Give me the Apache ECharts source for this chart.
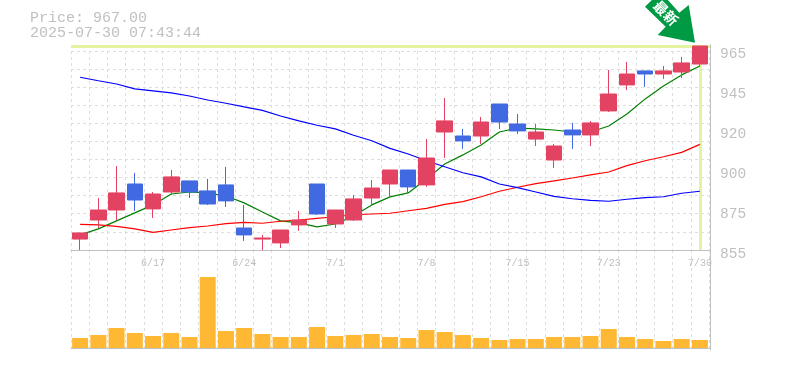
<!DOCTYPE html>
<html>
<head>
<meta charset="utf-8">
<title>967.00</title>
<style>
  html, body { margin: 0; padding: 0; background: #fff; }
  #chart { width: 785px; height: 370px; }
</style>
<script src="https://cdn.jsdelivr.net/npm/echarts@6/dist/echarts.min.js"></script>
</head>
<body>
<div id="chart"></div>
<script>
const dates = ['6/11', '6/12', '6/13', '6/16', '6/17', '6/18', '6/19', '6/20', '6/23', '6/24',
  '6/25', '6/26', '6/27', '6/30', '7/1', '7/2', '7/3', '7/4', '7/7', '7/8',
  '7/9', '7/10', '7/11', '7/14', '7/15', '7/16', '7/17', '7/18', '7/22', '7/23',
  '7/24', '7/25', '7/28', '7/29', '7/30'];

// open, close, low, high
const candles = [
  [861.0, 864.4, 855.0, 864.4], [871.5, 877.0, 867.1, 883.6], [877.0, 886.4, 871.5, 901.2],
  [891.3, 882.5, 876.5, 897.4], [877.6, 885.8, 872.6, 886.9], [886.9, 895.2, 885.3, 899.0],
  [893.0, 886.9, 883.6, 893.0], [887.5, 880.3, 879.8, 894.1], [890.8, 882.0, 878.7, 900.7],
  [867.1, 863.3, 860.0, 879.8], [861.0, 861.6, 855.0, 863.3], [858.9, 866.0, 856.1, 866.0],
  [868.8, 871.5, 865.5, 876.5], [891.3, 874.8, 874.3, 891.3], [869.3, 877.0, 867.1, 877.0],
  [871.5, 883.1, 871.0, 885.3], [883.6, 889.1, 879.8, 893.5], [891.3, 899.0, 884.2, 899.0],
  [899.0, 889.7, 886.4, 899.0], [890.8, 905.6, 889.7, 916.1], [919.9, 926.0, 905.6, 938.6],
  [917.7, 915.0, 910.6, 921.6], [917.7, 925.4, 913.3, 928.2], [935.3, 925.4, 921.6, 935.3],
  [924.3, 920.5, 918.8, 929.8], [916.0, 919.9, 912.2, 924.3], [904.5, 912.2, 900.1, 913.3],
  [921.0, 918.3, 910.6, 924.9], [918.3, 924.9, 912.2, 926.0], [931.5, 940.8, 930.9, 954.0],
  [945.8, 951.8, 943.0, 958.4], [953.5, 951.8, 944.7, 953.5], [951.8, 953.5, 949.1, 956.2],
  [952.9, 957.9, 949.6, 961.2], [957.3, 967.2, 956.2, 967.2],
];

const maShort = [863.3, 866.6, 871.0, 875.4, 879.8, 885.8, 886.9, 886.4, 884.7, 880.9,
  875.9, 871.0, 869.9, 867.7, 869.3, 873.7, 879.8, 884.2, 886.4, 894.0,
  902.3, 907.3, 912.8, 919.9, 922.1, 921.6, 921.0, 919.9, 919.9, 923.2,
  929.8, 938.1, 945.2, 951.3, 956.2];
const maMid = [869.1, 868.8, 868.0, 866.6, 864.7, 866.0, 867.3, 868.2, 869.5, 870.2,
  869.7, 870.8, 871.5, 872.4, 873.3, 874.4, 874.8, 875.2, 876.6, 877.9,
  880.1, 881.6, 884.3, 887.3, 889.5, 891.5, 893.0, 894.6, 896.3, 897.9,
  901.4, 904.1, 906.3, 908.7, 913.1];
const maLong = [950.0, 948.1, 946.3, 943.6, 942.5, 941.4, 939.7, 937.5, 935.7, 933.7,
  931.8, 928.7, 926.0, 923.6, 921.6, 918.1, 915.1, 910.9, 907.8, 904.1,
  900.8, 897.5, 895.2, 891.3, 889.3, 886.9, 884.5, 883.2, 882.3, 881.8,
  882.9, 883.8, 884.3, 886.2, 887.3];
const volumes = [10, 13, 20, 15, 12, 15, 11, 71, 17, 20, 14, 11, 11, 21, 12, 13, 14, 11,
  10, 18, 16, 13, 10, 8, 9, 9, 11, 11, 12, 19, 11, 9, 7, 9, 8];

const yTickValues = [855, 877, 899, 921, 943, 965];
const yTickLabels = ['855', '875', '900', '920', '945', '965'];
const yGridValues = [964.5, 954.5, 944.6, 934.8, 924.9, 915, 905.1, 895.2, 885.3, 875.2, 865];
const lastPrice = 967;
const headerLines = ['Price: 967.00', '2025-07-30 07:43:44'];
const badgeText = '最新';

const GRAY = '#c0c0c0';
const GRID_LINE = '#dedede';
const MONO = '"Liberation Mono", monospace';
const HILITE = '#e3f3a0';

const myChart = echarts.init(document.getElementById('chart'), null, { renderer: 'canvas' });

function lineSeries(data, color) {
  return {
    type: 'line',
    data,
    xAxisIndex: 0,
    yAxisIndex: 0,
    symbol: 'none',
    smooth: false,
    silent: true,
    z: 4,
    lineStyle: { color, width: 1.2 },
  };
}

myChart.setOption({
  animation: false,
  backgroundColor: '#fff',
  title: {
    text: headerLines.join('\n'),
    left: 30,
    top: 11,
    padding: 0,
    textStyle: { fontFamily: MONO, fontSize: 15, fontWeight: 'normal', color: GRAY, lineHeight: 15 },
  },
  grid: [
    { left: 71, width: 638, top: 45, height: 205 },
    { left: 71, width: 638, top: 250, height: 100 },
  ],
  xAxis: [
    {
      type: 'category',
      gridIndex: 0,
      data: dates,
      boundaryGap: true,
      axisLine: { lineStyle: { color: GRAY, width: 1 } },
      axisTick: { show: false },
      axisLabel: {
        interval: (i) => i % 5 === 4,
        margin: 8,
        fontFamily: MONO,
        fontSize: 10,
        color: GRAY,
      },
      splitLine: { show: true, interval: 0, lineStyle: { color: GRID_LINE, type: [3, 3], width: 1 } },
    },
    {
      type: 'category',
      gridIndex: 1,
      data: dates,
      boundaryGap: true,
      axisLine: { lineStyle: { color: GRAY, width: 1 } },
      axisTick: { show: false },
      axisLabel: { show: false },
      splitLine: { show: true, interval: 0, lineStyle: { color: GRID_LINE, type: [3, 3], width: 1 } },
    },
  ],
  yAxis: [
    {
      type: 'value',
      gridIndex: 0,
      position: 'right',
      offset: 1,
      min: 855,
      max: 967.75,
      axisLine: { show: true, lineStyle: { color: GRAY, width: 1 } },
      axisTick: { show: false, customValues: yGridValues },
      axisLabel: {
        customValues: yTickValues,
        formatter: (v) => '{t|' + yTickLabels[yTickValues.indexOf(v)] + '}',
        margin: 10,
        rich: {
          t: {
            padding: [8, 0, 0, 0],
            fontFamily: MONO,
            fontSize: 14.5,
            color: GRAY,
          },
        },
      },
      splitLine: { show: true, lineStyle: { color: GRID_LINE, type: [3, 3], width: 1 } },
    },
    {
      type: 'value',
      gridIndex: 1,
      position: 'right',
      offset: 1,
      min: -2,
      max: 98,
      axisLine: { show: true, lineStyle: { color: GRAY, width: 1 } },
      axisTick: { show: false },
      axisLabel: { show: false },
      splitLine: { show: false },
    },
  ],
  series: [
    {
      type: 'candlestick',
      data: candles,
      xAxisIndex: 0,
      yAxisIndex: 0,
      barWidth: 16,
      z: 5,
      itemStyle: {
        color: '#e34362',
        borderColor: '#e34362',
        color0: '#4169e1',
        borderColor0: '#4169e1',
        borderWidth: 1,
      },
      markLine: {
        silent: true,
        symbol: 'none',
        z: 1,
        label: { show: false },
        lineStyle: { color: HILITE, type: 'solid', width: 3 },
        data: [{ yAxis: lastPrice }, { xAxis: dates[dates.length - 1] }],
      },
    },
    lineSeries(maShort, '#008000'),
    lineSeries(maMid, '#ff0000'),
    lineSeries(maLong, '#0000ff'),
    {
      type: 'bar',
      data: volumes,
      xAxisIndex: 1,
      yAxisIndex: 1,
      barWidth: 16,
      silent: true,
      itemStyle: { color: '#ffb833' },
    },
  ],
  graphic: [
    {
      type: 'polygon',
      z: 20,
      shape: {
        points: [[645, 6.7], [653, -1], [667, -1], [679.3, 12.7], [688.7, 5], [695, 42.7], [657.7, 35], [665.7, 26.7]],
      },
      style: { fill: '#009944' },
    },
    {
      type: 'text',
      z: 21,
      x: 666,
      y: 13,
      rotation: -Math.PI / 4,
      style: {
        text: badgeText,
        fill: '#fff',
        font: 'bold 14px "Noto Sans CJK JP"',
        align: 'center',
        verticalAlign: 'middle',
      },
    },
  ],
});
</script>
</body>
</html>
